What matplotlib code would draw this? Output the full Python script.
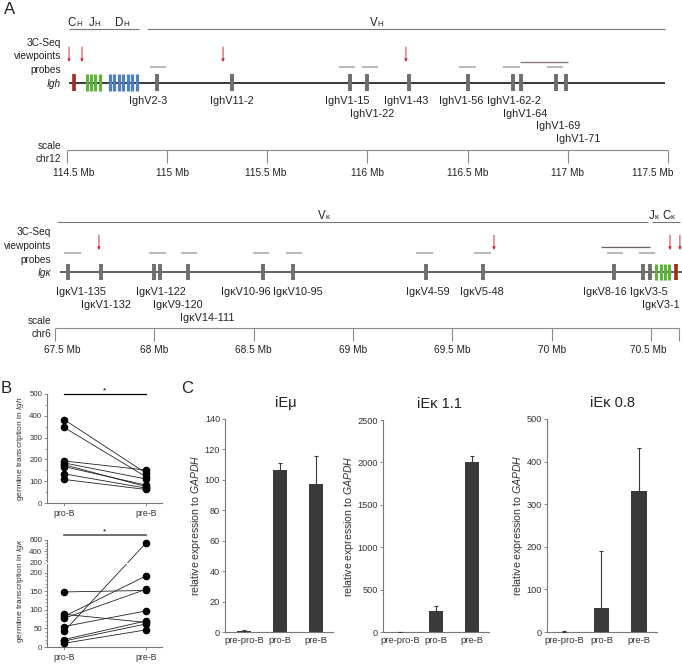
import numpy as np
import matplotlib
matplotlib.use("Agg")
import matplotlib.pyplot as plt
from matplotlib.transforms import blended_transform_factory

plt.rcParams['font.family'] = ['Liberation Sans', 'DejaVu Sans']
plt.rcParams['mathtext.fontset'] = 'custom'
plt.rcParams['mathtext.rm'] = 'Liberation Sans'
plt.rcParams['mathtext.it'] = 'Liberation Sans:italic'

# ---------------- data: Igh locus (chr12, Mb) ----------------
igh_genes = ['IghV2-3', 'IghV11-2', 'IghV1-15', 'IghV1-22', 'IghV1-43',
             'IghV1-56', 'IghV1-62-2', 'IghV1-64', 'IghV1-69', 'IghV1-71']
igh_gene_mb = [114.950, 115.324, 115.913, 115.998, 116.207,
               116.502, 116.727, 116.767, 116.941, 116.991]
igh_ch_mb = [114.536]
igh_jh_mb = [114.598, 114.620, 114.641, 114.665]
igh_dh_mb = [114.715, 114.736, 114.758, 114.781, 114.803, 114.825, 114.848]
igh_viewpoints_mb = [114.510, 114.575, 115.279, 116.192]
igh_probe_start = [114.914, 115.858, 115.973, 116.457, 116.677, 116.896]
igh_probe_end = [114.994, 115.938, 116.053, 116.542, 116.762, 116.976]
igh_long_probe = (116.762, 117.001)
igh_span = (114.51, 117.485)
igh_cdj_region = (114.51, 114.86)
igh_v_region = (114.90, 117.485)
igh_ticks = [114.5, 115, 115.5, 116, 116.5, 117, 117.5]

# ---------------- data: Igk locus (chr6, Mb) ----------------
igk_genes = ['IgκV1-135', 'IgκV1-132', 'IgκV1-122', 'IgκV9-120', 'IgκV14-111',
             'IgκV10-96', 'IgκV10-95', 'IgκV4-59', 'IgκV5-48', 'IgκV8-16',
             'IgκV3-5', 'IgκV3-1']
igk_gene_mb = [67.565, 67.732, 67.998, 68.028, 68.169, 68.547, 68.698,
               69.367, 69.654, 70.313, 70.459, 70.494]
igk_jk_mb = [70.525, 70.550, 70.570, 70.590]
igk_ck_mb = [70.625]
igk_viewpoints_mb = [67.721, 69.709, 70.595, 70.645]
igk_probe_start = [67.545, 67.973, 68.134, 68.496, 68.663, 69.317, 69.609, 70.278, 70.439]
igk_probe_end = [67.631, 68.059, 68.215, 68.577, 68.743, 69.402, 69.694, 70.359, 70.520]
igk_long_probe = (70.248, 70.494)
igk_span = (67.525, 70.66)
igk_v_region = (67.51, 70.484)
igk_jc_region = (70.505, 70.645)
igk_ticks = [67.5, 68, 68.5, 69, 69.5, 70, 70.5]
igk_scale_end = 70.64

# ---------------- data: panel B ----------------
igh_pro = [383, 347, 193, 184, 176, 167, 134, 108]
igh_pre = [137, 120, 151, 110, 75, 82, 68, 62]
igk_pro = [148, 88, 82, 77, 55, 42, 20, 16, 10]
igk_pre = [152, 66, 191, 155, 97, 548, 70, 62, 46]
b_groups = ['pro-B', 'pre-B']

# ---------------- data: panel C ----------------
c_groups = ['pre-pro-B', 'pro-B', 'pre-B']
iemu_mean = [0.8, 106.5, 97.5]
iemu_err = [0.3, 4.5, 18]
iek11_mean = [3, 252, 2000]
iek11_err = [1, 56, 75]
iek08_mean = [1, 56, 332]
iek08_err = [0.5, 134, 99]

# ---------------- layout ----------------
W, H = 682, 664
fig = plt.figure(figsize=(W / 100, H / 100), dpi=100)

RED_ARROW = '#d42a3c'
GENE_GRAY = '#6e6e6e'
PROBE_GRAY = '#ababab'
TXT = '#222222'
FS = 7.3
FS_GENE = 7.8


def map_axes(top, bottom, mb0, px0, ppm):
    ax = fig.add_axes([0, 1 - bottom / H, 1, (bottom - top) / H])
    ax.set_xlim(mb0 - px0 / ppm, mb0 + (W - px0) / ppm)
    ax.set_ylim(bottom, top)
    ax.axis('off')
    return ax


def px_axes(l, t, r, b):
    return fig.add_axes([l / W, 1 - b / H, (r - l) / W, (b - t) / H])


def region_label(ax, x_mb, y, big, small):
    ax.text(x_mb, y, big, ha='right', va='baseline', fontsize=8.3, color=TXT)
    ax.text(x_mb, y, small, ha='left', va='baseline', fontsize=5.8, color=TXT)


def arrows(ax, xs, y0, y1):
    for x in xs:
        ax.annotate('', xy=(x, y1), xytext=(x, y0),
                    arrowprops=dict(arrowstyle='-|>', color=RED_ARROW, lw=0.7,
                                    mutation_scale=4, shrinkA=0, shrinkB=0))


def segs(ax, y, starts, ends, **kw):
    ax.hlines(np.full(len(starts), y), starts, ends, **kw)


# ===== Panel A: Igh =====
ppm_h = 200.3
ax_h = map_axes(0, 185, 114.5, 67, ppm_h)
lt = blended_transform_factory(ax_h.transAxes, ax_h.transData)
for y, s in [(43, '3C-Seq'), (56, 'viewpoints'), (70, 'probes')]:
    ax_h.text(61 / W, y, s, transform=lt, ha='right', va='center', fontsize=FS, color=TXT)
ax_h.text(61 / W, 84, 'Igh', transform=lt, ha='right', va='center', fontsize=FS,
          color=TXT, style='italic')
ax_h.text(10 / W, 9, 'A', transform=lt, ha='center', va='center', fontsize=12, color=TXT)

ax_h.hlines(29, *igh_cdj_region, color='#777777', lw=0.8)
ax_h.hlines(29, *igh_v_region, color='#777777', lw=0.8)
for mb, big, small in [(114.545, 'C', 'H'), (114.635, 'J', 'H'), (114.780, 'D', 'H'), (116.05, 'V', 'H')]:
    region_label(ax_h, mb, 26.5, big, small)

arrows(ax_h, igh_viewpoints_mb, 47, 62)
segs(ax_h, 67, igh_probe_start, igh_probe_end, color=PROBE_GRAY, lw=1.2)
ax_h.hlines(62, *igh_long_probe, color='#8a7a88', lw=1.0)

ax_h.hlines(83, *igh_span, color='black', lw=1.1, zorder=1)
ax_h.vlines(igh_ch_mb, 74, 91, color='#9c2b20', lw=2.6)
ax_h.vlines(igh_jh_mb, 74, 91, color='#62b03e', lw=2.3)
ax_h.vlines(igh_dh_mb, 74, 91, color='#4f7ec2', lw=2.3)
ax_h.vlines(igh_gene_mb, 74, 91, color=GENE_GRAY, lw=2.8)

igh_rows = [0, 0, 0, 1, 0, 0, 0, 1, 2, 3]
igh_dx = [-9, 0, -3, 5, -3, -7, 1, 4, 2, 12]
for name, mb, r, dx in zip(igh_genes, igh_gene_mb, igh_rows, igh_dx):
    ax_h.text(mb + dx / ppm_h, 101 + 12.7 * r, name, ha='center', va='center',
              fontsize=FS_GENE, color=TXT)

ax_h.hlines(150, igh_ticks[0], igh_ticks[-1], color='#8c8c8c', lw=0.8)
ax_h.vlines(igh_ticks, 150, 163, color='#8c8c8c', lw=0.8)
igh_tick_dx = [7, 5, -2, 0, 0, 0, -15]
for t, dx in zip(igh_ticks, igh_tick_dx):
    ax_h.text(t + dx / ppm_h, 173, f'{t:g} Mb', ha='center', va='center', fontsize=FS, color=TXT)
ax_h.text(61 / W, 146, 'scale', transform=lt, ha='right', va='center', fontsize=FS, color=TXT)
ax_h.text(61 / W, 159, 'chr12', transform=lt, ha='right', va='center', fontsize=FS, color=TXT)

# ===== Panel A: Igk =====
ppm_k = 198.7
ax_k = map_axes(185, 365, 67.5, 55, ppm_k)
lk = blended_transform_factory(ax_k.transAxes, ax_k.transData)
for y, s in [(232, '3C-Seq'), (246, 'viewpoints'), (260, 'probes')]:
    ax_k.text(51 / W, y, s, transform=lk, ha='right', va='center', fontsize=FS, color=TXT)
ax_k.text(51 / W, 273, 'Igκ', transform=lk, ha='right', va='center', fontsize=FS,
          color=TXT, style='italic')

ax_k.hlines(222, *igk_v_region, color='#777777', lw=0.8)
ax_k.hlines(222, *igk_jc_region, color='#777777', lw=0.8)
for mb, big, small in [(68.86, 'V', 'κ'), (70.515, 'J', 'κ'), (70.600, 'C', 'κ')]:
    region_label(ax_k, mb, 219, big, small)

arrows(ax_k, igk_viewpoints_mb, 235, 250)
segs(ax_k, 253, igk_probe_start, igk_probe_end, color=PROBE_GRAY, lw=1.2)
ax_k.hlines(247, *igk_long_probe, color='#6e5e6c', lw=0.9)

ax_k.hlines(272, *igk_span, color='#555555', lw=1.3, zorder=1)
ax_k.vlines(igk_gene_mb, 264, 280, color=GENE_GRAY, lw=2.8)
ax_k.vlines(igk_jk_mb, 264, 280, color='#62b03e', lw=2.3)
ax_k.vlines(igk_ck_mb, 264, 280, color='#9c2b20', lw=2.6)

igk_rows = [0, 1, 0, 1, 2, 0, 0, 0, 0, 0, 0, 1]
igk_dx = [13, 5, 7, 18, 19, -17, 5, 2, -1, -9, 6, 11]
for name, mb, r, dx in zip(igk_genes, igk_gene_mb, igk_rows, igk_dx):
    ax_k.text(mb + dx / ppm_k, 292 + 13 * r, name, ha='center', va='center',
              fontsize=FS_GENE, color=TXT)

ax_k.hlines(328, igk_ticks[0], igk_scale_end, color='#8c8c8c', lw=0.8)
ax_k.vlines(igk_ticks + [igk_scale_end], 328, 341, color='#8c8c8c', lw=0.8)
igk_tick_dx = [7, 0, 0, 0, 0, 0, -3]
for t, dx in zip(igk_ticks, igk_tick_dx):
    ax_k.text(t + dx / ppm_k, 350, f'{t:g} Mb', ha='center', va='center', fontsize=FS, color=TXT)
ax_k.text(51 / W, 321, 'scale', transform=lk, ha='right', va='center', fontsize=FS, color=TXT)
ax_k.text(51 / W, 334, 'chr6', transform=lk, ha='right', va='center', fontsize=FS, color=TXT)


def style_axes(ax, labelsize=5.7):
    for s in ['top', 'right']:
        ax.spines[s].set_visible(False)
    for s in ['left', 'bottom']:
        ax.spines[s].set_color('#777777')
        ax.spines[s].set_linewidth(0.8)
    ax.tick_params(length=2.5, width=0.6, color='#777777', labelsize=labelsize,
                   labelcolor='#333333', pad=1)
    ax.tick_params(which='minor', length=1.5, width=0.5, color='#777777')
    ax.patch.set_alpha(0)


# ===== Panel B top =====
fig.text(6 / W, 1 - 388 / H, 'B', ha='center', va='center', fontsize=12, color=TXT)
axb1 = px_axes(47, 394, 162, 503)
style_axes(axb1)
for a, b in zip(igh_pro, igh_pre):
    axb1.plot([0, 1], [a, b], color='#222222', lw=0.6, zorder=2)
axb1.scatter(np.zeros(len(igh_pro)), igh_pro, s=20, color='black', zorder=4, clip_on=False)
axb1.scatter(np.ones(len(igh_pre)), igh_pre, s=20, color='black', zorder=4, clip_on=False)
axb1.set_xlim(-0.207, 1.195)
axb1.set_ylim(0, 500)
axb1.set_yticks(np.arange(0, 501, 100))
axb1.set_yticks(np.arange(50, 500, 100), minor=True)
axb1.set_xticks([0, 1], b_groups)
axb1.tick_params(axis='x', labelsize=6.3, pad=2)
axb1.plot([0, 1], [500, 500], color='black', lw=0.9, clip_on=False)
axb1.text(0.5, 500, '*', ha='center', va='bottom', fontsize=6)
axb1.set_ylabel(r'germline transcription in $\mathit{Igh}$', fontsize=6, labelpad=2, color='#333333')

# ===== Panel B bottom (broken axis via function scale) =====
GAP, K = 26.0, 0.154


def fwd(v):
    v = np.asarray(v, dtype=float)
    return np.where(v <= 200, v, 200 + GAP + (v - 200) * K)


def inv(t):
    t = np.asarray(t, dtype=float)
    return np.where(t <= 200, t, np.where(t < 200 + GAP, 200, 200 + (t - 200 - GAP) / K))


axb2 = px_axes(47, 535, 162, 647)
style_axes(axb2)
axb2.set_yscale('function', functions=(fwd, inv))
for a, b in zip(igk_pro, igk_pre):
    axb2.plot([0, 1], [a, b], color='#222222', lw=0.6, zorder=2)
axb2.scatter(np.zeros(len(igk_pro)), igk_pro, s=20, color='black', zorder=4, clip_on=False)
axb2.scatter(np.ones(len(igk_pre)), igk_pre, s=20, color='black', zorder=4, clip_on=False)
axb2.set_xlim(-0.207, 1.195)
axb2.set_ylim(0, 687)
axb2.axhspan(200.3, 200.0001, xmin=-0.015, xmax=1.0, color='white', zorder=3, clip_on=False)
axb2.set_yticks([0, 50, 100, 150, 200, 200.001, 400, 600],
                ['0', '50', '100', '150', '200', '200', '400', '600'])
axb2.set_yticks(list(np.arange(10, 200, 10)) + list(np.arange(250, 600, 50)), minor=True)
axb2.spines['left'].set_bounds(0, 600)
axb2.set_xticks([0, 1], b_groups)
axb2.tick_params(axis='x', labelsize=6.3, pad=2)
axb2.plot([0, 1], [687, 687], color='#555555', lw=1.2, clip_on=False)
axb2.text(0.5, 687, '*', ha='center', va='bottom', fontsize=6)
axb2.set_ylabel(r'germline transcription in $\mathit{Igκ}$', fontsize=6, labelpad=2, color='#333333')

# ===== Panel C =====
fig.text(187 / W, 1 - 388 / H, 'C', ha='center', va='center', fontsize=12, color=TXT)
c_panels = [
    ('iEμ', iemu_mean, iemu_err, (225, 419, 333, 632), 140, 20, (-0.53, 2.47), 0.565),
    ('iEκ 1.1', iek11_mean, iek11_err, (383, 420, 489, 632), 2500, 500, (-0.47, 2.47), 0.53),
    ('iEκ 0.8', iek08_mean, iek08_err, (547, 419, 657, 632), 500, 100, (-0.45, 2.48), 0.6),
]
for title, mean, err, box, ymax, step, xl, tx in c_panels:
    ax = px_axes(*box)
    style_axes(ax, labelsize=6.6)
    x = np.arange(len(c_groups))
    ax.bar(x, mean, width=0.41, color='#3a3a3a', zorder=2)
    ax.errorbar(x, mean, yerr=[np.zeros(len(err)), err], fmt='none', ecolor='#3a3a3a',
                elinewidth=0.8, capsize=1.6, capthick=0.8, zorder=3)
    ax.set_xlim(*xl)
    ax.set_ylim(0, ymax)
    ax.set_yticks(np.arange(0, ymax + 1, step))
    ax.set_xticks(x, c_groups)
    ax.tick_params(axis='x', length=0, pad=3, labelsize=6.8)
    ax.text(tx, 1.075, title, transform=ax.transAxes, ha='center', va='center',
            fontsize=10.5, color=TXT)
    ax.set_ylabel(r'relative expression to $\mathit{GAPDH}$', fontsize=7.6,
                  labelpad=1.5, color='#333333')

fig.savefig('out.png', dpi=100)
